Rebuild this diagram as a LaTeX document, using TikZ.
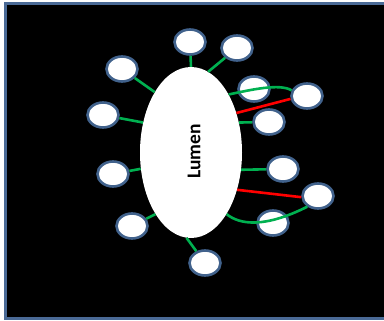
\documentclass[tikz,border=0pt]{standalone}
\usepackage{fontspec}
\setmainfont{Carlito}
\usetikzlibrary{shapes.geometric}
\definecolor{frameblue}{HTML}{4A6A96}
\definecolor{ringblue}{HTML}{41628C}
\definecolor{linkgreen}{HTML}{00B050}
\definecolor{linkred}{HTML}{FF0000}
\tikzset{
  cell/.style={ellipse, draw=ringblue, line width=2.6pt, fill=white,
    minimum width=31pt, minimum height=25pt, inner sep=0pt},
  lumen/.style={ellipse, fill=white, minimum width=102pt, minimum height=171pt, inner sep=0pt},
  glink/.style={draw=linkgreen, line width=2.6pt},
  rlink/.style={draw=linkred, line width=2.6pt},
}
\begin{document}
\begin{tikzpicture}[x=1pt, y=-1pt]
\useasboundingbox (0,0) rectangle (384,321);
% frame
\fill[white] (0,0) rectangle (384,321);
\draw[frameblue, line width=3pt, fill=black] (5.5,3.5) rectangle (392,318.5);
% central lumen
\node[lumen] (L) at (191,152.5) {};
\node[rotate=90, font=\bfseries\fontsize{19.5}{23}\selectfont] (lbl) at (194,151.5) {Lumen};
% surrounding cells
\node[cell] (c1) at (190,42) {};
\node[cell] (c2) at (237,48) {};
\node[cell] (c3) at (122,69) {};
\node[cell] (c4) at (103,115) {};
\node[cell] (c5) at (113,174) {};
\node[cell] (c6) at (132,226) {};
\node[cell] (c7) at (205,263) {};
\node[cell] (c8) at (254,89) {};
\node[cell] (c9) at (307,96) {};
\node[cell] (c10) at (269,122) {};
\node[cell] (c11) at (283,169) {};
\node[cell] (c12) at (318,196) {};
\node[cell] (c13) at (273,223) {};
% straight links
\draw[glink] (c1) -- (L.90);
\draw[glink] (c2) -- (L.78);
\draw[glink] (c3) -- (L.121);
\draw[glink] (c4) -- (L.148);
\draw[glink] (c5) -- (L.198);
\draw[glink] (c6) -- (L.240);
\draw[glink] (c7) -- (L.267);
\draw[glink] (c10) -- (L.32);
\draw[glink] (c11) -- (L.-19);
% long links to outer cells
\draw[rlink] (L.41) -- (c9.190);
\draw[rlink] (L.-39) -- (c12.184);
\draw[glink] (L.57) .. controls (250,90) and (280,83) .. (c9.160);
\draw[glink] (L.-60) .. controls (240,225) and (265,228) .. (c12.225);
\end{tikzpicture}
\end{document}
